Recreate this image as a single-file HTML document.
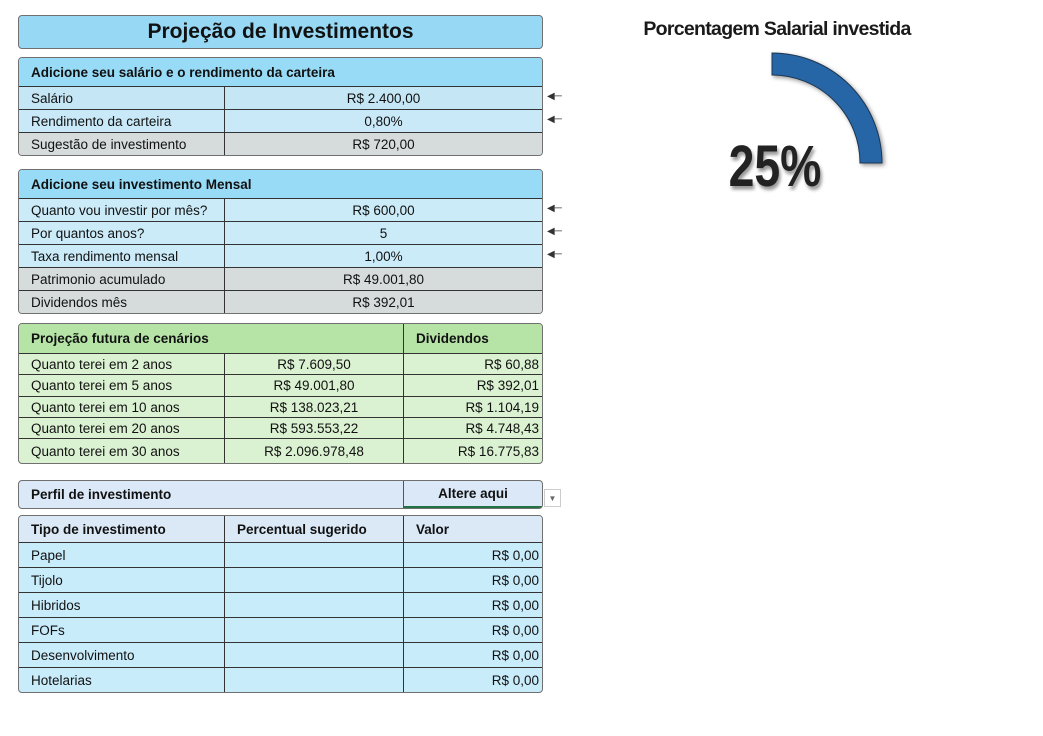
<!DOCTYPE html>
<html><head><meta charset="utf-8">
<style>
body{margin:0;width:1043px;height:736px;background:#fff;position:relative;overflow:hidden;font-family:"Liberation Sans",sans-serif;color:#111}
.box{position:absolute;left:18px;width:523px;border:1.5px solid #707070;border-radius:4px;overflow:hidden;box-sizing:content-box}
.row{display:flex;border-top:1px solid #333;box-sizing:border-box;font-size:13.5px;align-items:center}
.row:first-child{border-top:none}
.c{height:100%;display:flex;align-items:center;box-sizing:border-box;padding:0 12px}
.c1{width:206px;border-right:1px solid #333}
.c2{width:179px;border-right:1px solid #333;justify-content:center}
.c3{flex:1;justify-content:flex-end;padding-right:3px}
.cw{flex:1;justify-content:center}
.hd{font-weight:bold;font-size:13.5px}
.arrow{position:absolute;left:547px;font-size:10px;color:#333}
</style></head><body>
<div class="box" style="top:15px;height:32px;background:#97d9f5;display:flex;align-items:center;justify-content:center;font-size:21px;font-weight:bold">Projeção de Investimentos</div>

<div class="box" style="top:57px;height:97px">
<div class="row hd" style="height:28px;background:#97dbf6"><div class="c">Adicione seu salário e o rendimento da carteira</div></div>
<div class="row" style="height:23px;background:#c5e6f4"><div class="c c1">Salário</div><div class="c cw">R$ 2.400,00</div></div>
<div class="row" style="height:23px;background:#c9e9f8"><div class="c c1">Rendimento da carteira</div><div class="c cw">0,80%</div></div>
<div class="row" style="height:23px;background:#d6dcdc"><div class="c c1">Sugestão de investimento</div><div class="c cw">R$ 720,00</div></div>
</div>
<div class="arrow" style="top:91px">◀─</div><div class="arrow" style="top:114px">◀─</div>

<div class="box" style="top:169px;height:143px">
<div class="row hd" style="height:28px;background:#97dbf6"><div class="c">Adicione seu investimento Mensal</div></div>
<div class="row" style="height:23px;background:#cbebf9"><div class="c c1">Quanto vou investir por mês?</div><div class="c cw">R$ 600,00</div></div>
<div class="row" style="height:23px;background:#cbebf9"><div class="c c1">Por quantos anos?</div><div class="c cw">5</div></div>
<div class="row" style="height:23px;background:#cbebf9"><div class="c c1">Taxa rendimento mensal</div><div class="c cw">1,00%</div></div>
<div class="row" style="height:23px;background:#d6dcdc"><div class="c c1">Patrimonio acumulado</div><div class="c cw">R$ 49.001,80</div></div>
<div class="row" style="height:23px;background:#d6dcdc"><div class="c c1">Dividendos mês</div><div class="c cw">R$ 392,01</div></div>
</div>
<div class="arrow" style="top:203px">◀─</div><div class="arrow" style="top:226px">◀─</div><div class="arrow" style="top:249px">◀─</div>

<div class="box" style="top:323px;height:139px;background:#dbf2d2">
<div class="row hd" style="height:29px;background:#b5e4a6"><div class="c" style="width:385px;border-right:1px solid #333">Projeção futura de cenários</div><div class="c">Dividendos</div></div>
<div class="row" style="height:21px"><div class="c c1">Quanto terei em 2 anos</div><div class="c c2">R$ 7.609,50</div><div class="c c3">R$ 60,88</div></div>
<div class="row" style="height:22px"><div class="c c1">Quanto terei em 5 anos</div><div class="c c2">R$ 49.001,80</div><div class="c c3">R$ 392,01</div></div>
<div class="row" style="height:21px"><div class="c c1">Quanto terei em 10 anos</div><div class="c c2">R$ 138.023,21</div><div class="c c3">R$ 1.104,19</div></div>
<div class="row" style="height:21px"><div class="c c1">Quanto terei em 20 anos</div><div class="c c2">R$ 593.553,22</div><div class="c c3">R$ 4.748,43</div></div>
<div class="row" style="height:25px"><div class="c c1">Quanto terei em 30 anos</div><div class="c c2">R$ 2.096.978,48</div><div class="c c3">R$ 16.775,83</div></div>
</div>

<div class="box" style="top:480px;height:27px;background:#dae8f7">
<div class="row hd" style="height:27px"><div class="c" style="width:385px;border-right:1px solid #217346">Perfil de investimento</div><div class="c cw" style="border-bottom:2px solid #217346">Altere aqui</div></div>
</div>
<div style="position:absolute;left:544px;top:489px;width:15px;height:16px;border:1px solid #ccc;background:#fff;font-size:8px;color:#666;display:flex;align-items:center;justify-content:center">▼</div>

<div class="box" style="top:515px;height:176px;background:#c9ecfb">
<div class="row hd" style="height:26px;background:#dbe9f7"><div class="c c1">Tipo de investimento</div><div class="c c2" style="justify-content:flex-start">Percentual sugerido</div><div class="c">Valor</div></div>
<div class="row" style="height:25px"><div class="c c1">Papel</div><div class="c c2"></div><div class="c c3">R$ 0,00</div></div>
<div class="row" style="height:25px"><div class="c c1">Tijolo</div><div class="c c2"></div><div class="c c3">R$ 0,00</div></div>
<div class="row" style="height:25px"><div class="c c1">Hibridos</div><div class="c c2"></div><div class="c c3">R$ 0,00</div></div>
<div class="row" style="height:25px"><div class="c c1">FOFs</div><div class="c c2"></div><div class="c c3">R$ 0,00</div></div>
<div class="row" style="height:25px"><div class="c c1">Desenvolvimento</div><div class="c c2"></div><div class="c c3">R$ 0,00</div></div>
<div class="row" style="height:25px"><div class="c c1">Hotelarias</div><div class="c c2"></div><div class="c c3">R$ 0,00</div></div>
</div>

<svg id="gauge" style="position:absolute;left:600px;top:0" width="400" height="220">
<text x="177" y="35" text-anchor="middle" font-family="Liberation Sans, sans-serif" font-weight="bold" font-size="19.5" letter-spacing="-0.7" fill="#1a1a1a">Porcentagem Salarial investida</text>
<text id="gval" x="175" y="186" text-anchor="middle" font-family="Liberation Sans Narrow, Liberation Sans, sans-serif" font-weight="bold" font-size="58" transform="translate(175 0) scale(0.8 1) translate(-175 0)" fill="#222" style="text-shadow:2px 3px 3px #999">25%</text>
</svg>
<script>
const gaugeValue = 25;
const gaugeMax = 100;
(function(){
  const svg=document.getElementById('gauge');
  const cx=172, cy=163, ro=110, ri=88;
  const a=(gaugeValue/gaugeMax)*2*Math.PI;
  const p=(r,t)=>[cx+r*Math.sin(t), cy-r*Math.cos(t)];
  const [x1,y1]=p(ro,0),[x2,y2]=p(ro,a),[x3,y3]=p(ri,a),[x4,y4]=p(ri,0);
  const lg=a>Math.PI?1:0;
  const path=document.createElementNS('http://www.w3.org/2000/svg','path');
  path.setAttribute('d',`M${x1} ${y1} A${ro} ${ro} 0 ${lg} 1 ${x2} ${y2} L${x3} ${y3} A${ri} ${ri} 0 ${lg} 0 ${x4} ${y4} Z`);
  path.setAttribute('fill','#2666a6');
  path.setAttribute('stroke','#1e3550');
  path.setAttribute('stroke-width','1');
  path.setAttribute('style','filter:drop-shadow(2px 2px 2px rgba(0,0,0,0.4))');
  
  
  svg.insertBefore(path, svg.firstChild);
  document.getElementById('gval').textContent=gaugeValue+'%';
})();
</script>
</body></html>
